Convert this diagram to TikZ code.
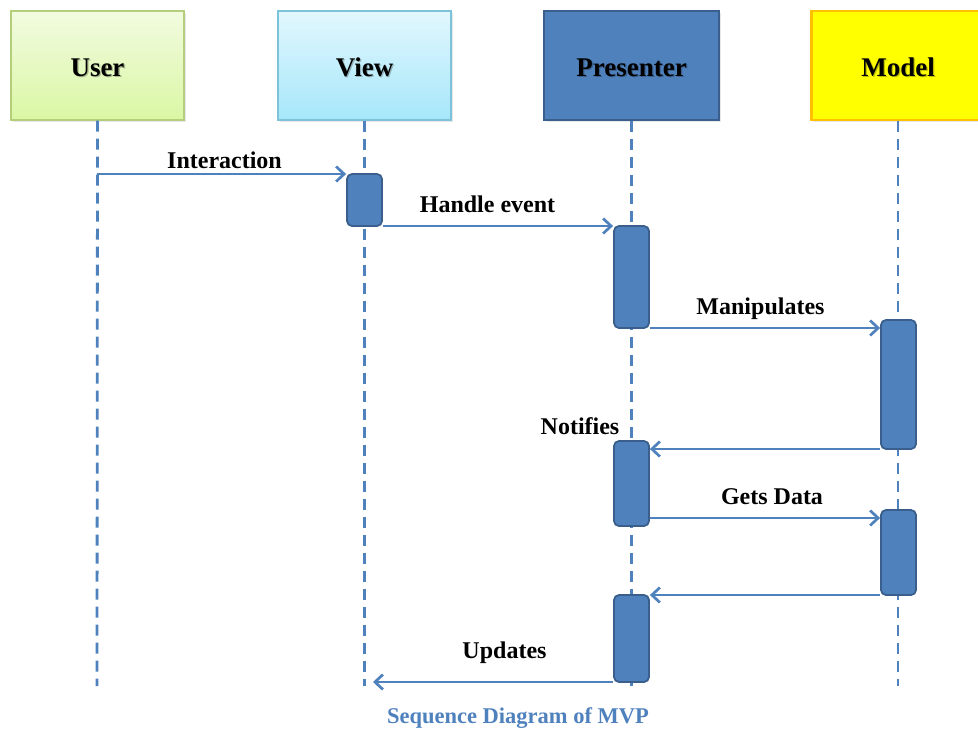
\documentclass[tikz,border=0pt]{standalone}
\usepackage{fontspec}
\setmainfont{Liberation Serif}
\usetikzlibrary{arrows.meta,shadows}
\definecolor{mvpblue}{HTML}{4F81BD}
\definecolor{mvpdark}{HTML}{3A5F8C}
\definecolor{usertop}{HTML}{F2FBE0}
\definecolor{userbot}{HTML}{DAF7A4}
\definecolor{userline}{HTML}{B3CF7C}
\definecolor{viewtop}{HTML}{E2F7FD}
\definecolor{viewbot}{HTML}{A6E7FA}
\definecolor{viewline}{HTML}{7CC3DA}
\definecolor{modelline}{HTML}{FFC000}
\definecolor{modelfill}{HTML}{FFFF00}
\tikzset{
  header/.style={minimum width=173pt, minimum height=109pt, inner sep=0pt,
    line width=1.3pt, drop shadow={opacity=0.18, shadow xshift=1.5pt, shadow yshift=-1.5pt}},
  headtext/.style={font=\fontsize{27}{32}\selectfont\bfseries, anchor=base, inner sep=0pt},
  headshade/.style={headtext, text=black, opacity=0.25},
  lifeline/.style={draw=mvpblue, line width=2.8pt, dash pattern=on 11pt off 7pt},
  actbox/.style={fill=mvpblue, draw=mvpdark, line width=1.8pt, rounded corners=5pt,
    minimum width=35pt, inner sep=0pt},
  msg/.style={draw=mvpblue, line width=2.7pt, -{Straight Barb[length=8pt,width=15pt,line width=2.7pt]}},
  msglabel/.style={font=\fontsize{24}{28}\selectfont\bfseries, anchor=base, inner sep=0pt}
}
\begin{document}
\begin{tikzpicture}[x=1pt,y=-1pt]
\useasboundingbox (0,0) rectangle (978,729);
\clip (0,0) rectangle (978,729);

% participant headers
\node[header, draw=userline, top color=usertop, bottom color=userbot] (user) at (97.5,65.5) {};
\node[header, draw=viewline, top color=viewtop, bottom color=viewbot] (view) at (364.5,65.5) {};
\node[header, draw=mvpdark, fill=mvpblue, minimum width=175pt, line width=1.8pt] (pres) at (631.5,65.5) {};
\node[header, draw=modelline, fill=modelfill, line width=2.2pt] (model) at (898,65.5) {};

\foreach \n/\t in {user/User, view/View, pres/Presenter, model/Model}{
  \node[headshade] at ([xshift=1.4pt, yshift=-12pt]\n.center) {\t};
  \node[headtext] (\n-label) at ([yshift=-10.5pt]\n.center) {\t};
}

% lifeline ends
\coordinate (user-end) at (97,686);
\coordinate (view-end) at (364.5,686);
\coordinate (pres-end) at (631.5,686);
\coordinate (model-end) at (898,686);

\foreach \n in {user, view, pres, model}
  \draw[lifeline] (\n.south) -- (\n-end);

% activation bars
\node[actbox, minimum height=52pt]  (va)  at (364.5,200) {};
\node[actbox, minimum height=102pt] (pa1) at (631.5,277) {};
\node[actbox, minimum height=129pt] (ma1) at (898.5,384.5) {};
\node[actbox, minimum height=85pt]  (pa2) at (631.5,483.5) {};
\node[actbox, minimum height=85pt]  (ma2) at (898.5,552.5) {};
\node[actbox, minimum height=87pt]  (pa3) at (631.5,638.5) {};

% messages
\coordinate (u-int) at (97,174);
\draw[msg] (u-int) -- (va.west |- u-int);
\node[msglabel] at (224.5,168) {Interaction};

\draw[msg] (va.east |- 0,226) -- (pa1.west |- 0,226);
\node[msglabel] at (487.5,212) {Handle event};

\draw[msg] (pa1.east |- 0,328) -- (ma1.west |- 0,328);
\node[msglabel] at (760.5,314) {Manipulates};

\draw[msg] (ma1.west |- 0,449) -- (pa2.east |- 0,449);
\node[msglabel] at (580,434) {Notifies};

\draw[msg] (pa2.east |- 0,518) -- (ma2.west |- 0,518);
\node[msglabel] at (772,504) {Gets Data};

\draw[msg] (ma2.west |- 0,595) -- (pa3.east |- 0,595);

\coordinate (v-upd) at (373,682);
\draw[msg] (pa3.west |- v-upd) -- (v-upd);
\node[msglabel] at (504.5,658) {Updates};

% caption
\node[anchor=base, inner sep=0pt, text=mvpblue, font=\fontsize{22.5}{27}\selectfont\bfseries] (caption) at (518,723) {Sequence Diagram of MVP};
\end{tikzpicture}
\end{document}
